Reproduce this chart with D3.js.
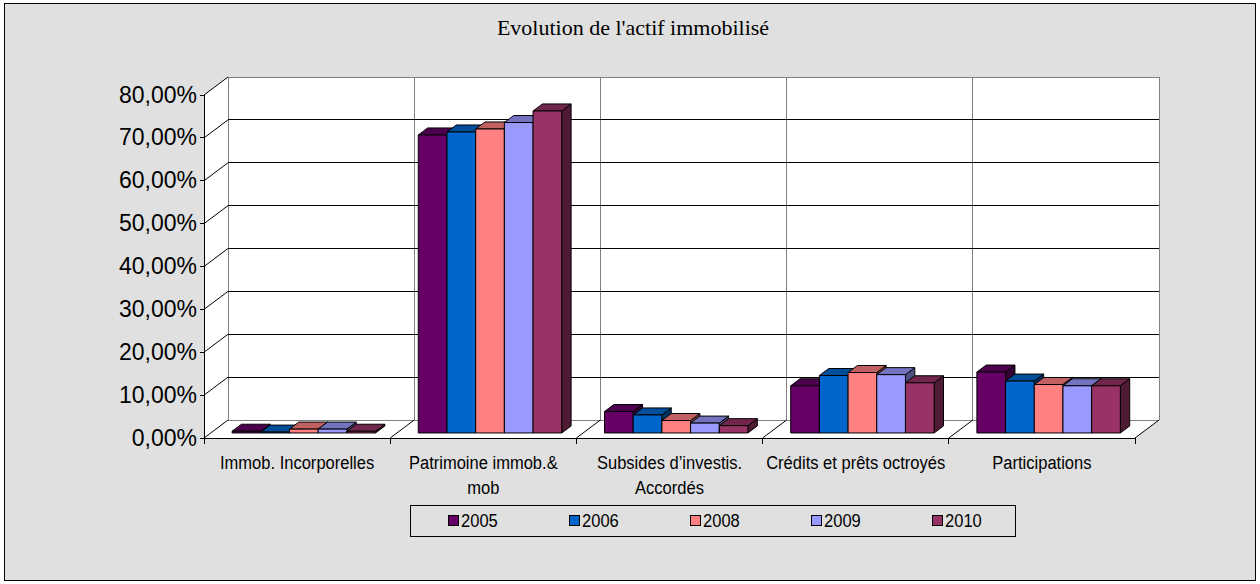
<!DOCTYPE html>
<html>
<head>
<meta charset="utf-8">
<script src="https://cdn.jsdelivr.net/npm/d3@7"></script>
<style>
  html, body { margin: 0; padding: 0; background: #ffffff; }
  svg { display: block; }
  .sans { font-family: "Liberation Sans", Arial, sans-serif; }
</style>
</head>
<body>
<svg id="chart" width="1260" height="584"></svg>
<script>
// Share of each fixed-asset item per year
const categories = [
  "Immob. Incorporelles",
  "Patrimoine immob.& mob",
  "Subsides d’investis. Accordés",
  "Crédits et prêts octroyés",
  "Participations"
];
const categoryLines = [
  ["Immob. Incorporelles"],
  ["Patrimoine immob.&", "mob"],
  ["Subsides d’investis.", "Accordés"],
  ["Crédits et prêts octroyés"],
  ["Participations"]
];
const years = ["2005", "2006", "2008", "2009", "2010"];
const values2005 = [0.004, 0.695, 0.050, 0.110, 0.142];
const values2006 = [0.002, 0.702, 0.042, 0.134, 0.121];
const values2008 = [0.009, 0.709, 0.029, 0.141, 0.113];
const values2009 = [0.009, 0.724, 0.023, 0.136, 0.110];
const values2010 = [0.004, 0.751, 0.017, 0.117, 0.110];
const seriesValues = [values2005, values2006, values2008, values2009, values2010];
const yTicks = [0, 0.1, 0.2, 0.3, 0.4, 0.5, 0.6, 0.7, 0.8];
const colors = ["#660066", "#0066cc", "#ff8080", "#9999ff", "#993366"];
const title = "Evolution de l'actif immobilisé";

const svg = d3.select("#chart");

// Oblique projection of the 3-D plot box
const DX = 24, DY = 18;
const front = { x0: 204, x1: 1135 };
const y = d3.scaleLinear().domain([0, 0.8]).range([438, 95]);
const xCat = d3.scaleBand().domain(categories).range([front.x0, front.x1]);
const xSer = d3.scaleBand().domain(years).range([0, xCat.bandwidth()])
  .paddingInner(0).paddingOuter(0.745);
const P = (x, v, d) => [x + d * DX, y(v) - d * DY];

const locale = d3.formatLocale({ decimal: ",", thousands: " ", grouping: [3], currency: ["", "€"] });
const fmt = locale.format(".2%");

// Condensed sans text, drawn by squeezing a regular face horizontally
const NARROW = 0.87;
const narrowText = (parent, x, yPos, size, anchor) => parent.append("text")
  .attr("class", "sans")
  .attr("transform", `translate(${x},${yPos}) scale(${NARROW},1)`)
  .attr("x", 0).attr("y", 0)
  .attr("text-anchor", anchor).attr("font-size", size).attr("fill", "#000");

// Chart area frame
svg.append("rect").attr("x", 4.5).attr("y", 3.5).attr("width", 1251).attr("height", 577)
  .attr("fill", "#e0e0e0").attr("stroke", "#000").attr("stroke-width", 1);

svg.append("text").attr("x", 633).attr("y", 35).attr("text-anchor", "middle")
  .attr("font-family", "'Liberation Serif', 'Times New Roman', serif")
  .attr("font-size", 22).attr("fill", "#000").text(title);

// White walls and floor
const vTop = yTicks[yTicks.length - 1];
const box = [
  P(front.x0, 0, 0), P(front.x0, vTop, 0), P(front.x0, vTop, 1),
  P(front.x1, vTop, 1), P(front.x1, 0, 1), P(front.x1, 0, 0)
];
svg.append("polygon").attr("points", box.map(p => p.join(",")).join(" ")).attr("fill", "#fff");

const line = (a, b, stroke) => svg.append("line")
  .attr("x1", a[0]).attr("y1", a[1]).attr("x2", b[0]).attr("y2", b[1])
  .attr("stroke", stroke).attr("stroke-width", 1).attr("shape-rendering", "crispEdges");
const dline = (a, b, stroke) => svg.append("line")
  .attr("x1", a[0]).attr("y1", a[1]).attr("x2", b[0]).attr("y2", b[1])
  .attr("stroke", stroke).attr("stroke-width", 1);

// Category dividers on the back wall
categories.forEach((c, i) => {
  if (i === 0) return;
  line(P(xCat(c), 0, 1), P(xCat(c), vTop, 1), "#808080");
});
// Wall edges
line(P(front.x0, 0, 1), P(front.x0, vTop, 1), "#808080");
line(P(front.x1, 0, 1), P(front.x1, vTop, 1), "#808080");

// Gridlines with their side-wall diagonals
yTicks.forEach(t => {
  line(P(front.x0, t, 1), P(front.x1, t, 1), t === 0 || t === vTop ? "#808080" : "#000");
  dline(P(front.x0, t, 0), P(front.x0, t, 1), "#000");
  line([front.x0 - 4, y(t)], [front.x0, y(t)], "#000");
});
// Value axis
line(P(front.x0, 0, 0), P(front.x0, vTop, 0), "#000");

svg.append("g").selectAll("text").data(yTicks).join("text")
  .attr("class", "sans")
  .attr("x", 197).attr("y", d => y(d) + 7.5).attr("text-anchor", "end")
  .attr("font-size", 23).attr("fill", "#000").text(d => fmt(d));

// Floor front edge, category ticks and floor diagonals
line(P(front.x0, 0, 0), P(front.x1, 0, 0), "#000");
categories.forEach(c => {
  const x = xCat(c);
  line([x, y(0)], [x, y(0) + 6], "#000");
  if (x > front.x0) dline(P(x, 0, 0), P(x, 0, 1), "#000");
});
line([front.x1, y(0)], [front.x1, y(0) + 6], "#000");
dline(P(front.x1, 0, 0), P(front.x1, 0, 1), "#000");

// 3-D bars
const d0 = 0.28, d1 = 0.67;
const bars = svg.append("g");
categories.forEach((c, ci) => {
  years.forEach((yr, si) => {
    const v = seriesValues[si][ci];
    const base = d3.color(colors[si]);
    const x0 = xCat(c) + xSer(yr);
    const x1 = x0 + xSer.bandwidth();
    const f0 = P(x0, 0, d0), f1 = P(x1, v, d0);
    const bt = P(x0, v, d1), bt1 = P(x1, v, d1), bb1 = P(x1, 0, d1);
    const g = bars.append("g").attr("stroke", "#000").attr("stroke-width", 1).attr("stroke-linejoin", "round");
    g.append("polygon")
      .attr("points", [[f1[0], f1[1]], bt1, bb1, [f1[0], f0[1]]].map(p => p.join(",")).join(" "))
      .attr("fill", base.darker(1.9));
    g.append("polygon")
      .attr("points", [[f0[0], f1[1]], bt, bt1, [f1[0], f1[1]]].map(p => p.join(",")).join(" "))
      .attr("fill", base.darker(0.8));
    g.append("rect").attr("x", f0[0]).attr("y", f1[1])
      .attr("width", f1[0] - f0[0]).attr("height", Math.max(0, f0[1] - f1[1]))
      .attr("fill", base);
  });
});

// Category labels
categories.forEach((c, i) => {
  const t = narrowText(svg, xCat(c) + xCat.bandwidth() / 2, 469, 19, "middle");
  categoryLines[i].forEach((s, k) => {
    t.append("tspan").attr("x", 0).attr("dy", k === 0 ? 0 : 25).text(s);
  });
});

// Legend
const lg = svg.append("g");
lg.append("rect").attr("x", 410.5).attr("y", 505.5).attr("width", 605).attr("height", 31)
  .attr("fill", "#e0e0e0").attr("stroke", "#000");
const lx = d3.scalePoint().domain(years).range([448, 932]);
years.forEach((yr, i) => {
  lg.append("rect").attr("x", lx(yr) + 0.5).attr("y", 515.5).attr("width", 10).attr("height", 10)
    .attr("fill", colors[i]).attr("stroke", "#000");
  narrowText(lg, lx(yr) + 13, 527, 19, "start").text(yr);
});
</script>
</body>
</html>
